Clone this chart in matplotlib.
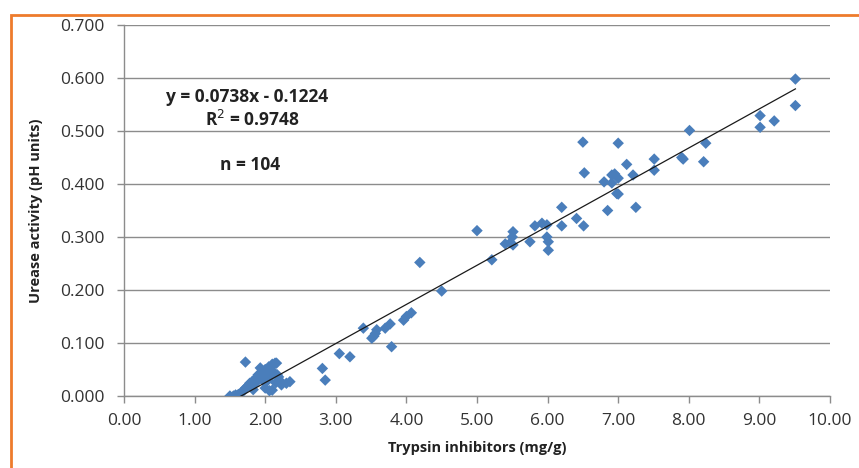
# Trypsin inhibitors vs urease activity scatter with linear trend

import numpy as np
import matplotlib.pyplot as plt
from matplotlib.patches import Rectangle

# data
# cluster of low values near 1.5 - 2.3 mg/g
ti_low = [1.50, 1.55, 1.60, 1.62, 1.65, 1.68, 1.70, 1.72, 1.75, 1.78, 1.80, 1.82,
          1.85, 1.86, 1.88, 1.90, 1.92, 1.95, 1.97, 2.00, 2.00, 2.02, 2.04, 2.05,
          2.07, 2.08, 2.10, 2.10, 2.12, 2.14, 2.15, 2.17, 2.19, 2.20, 2.23, 2.30,
          2.35, 1.72, 1.93, 2.16, 1.98, 2.06, 1.58, 1.83]
ua_low = [0.000, 0.000, 0.000, 0.003, 0.005, 0.008, 0.012, 0.015, 0.018, 0.024, 0.020, 0.028,
          0.030, 0.024, 0.035, 0.040, 0.033, 0.045, 0.038, 0.050, 0.015, 0.042, 0.030, 0.055,
          0.036, 0.048, 0.060, 0.011, 0.045, 0.062, 0.025, 0.040, 0.036, 0.030, 0.021, 0.024,
          0.027, 0.064, 0.053, 0.062, 0.028, 0.010, 0.002, 0.012]

ti_mid = [2.81, 2.85, 3.05, 3.20, 3.39, 3.51, 3.54, 3.56, 3.58, 3.70, 3.77, 3.79,
          3.96, 4.00, 4.07, 4.19, 4.50, 5.00, 5.21, 5.40, 5.47, 5.51, 5.50, 5.51,
          5.75, 5.82, 5.92, 5.99, 5.99, 6.01, 6.01, 6.20, 6.20, 6.41, 6.51]
ua_mid = [0.052, 0.030, 0.080, 0.074, 0.128, 0.109, 0.113, 0.118, 0.125, 0.128, 0.136, 0.093,
          0.143, 0.150, 0.157, 0.252, 0.198, 0.312, 0.257, 0.287, 0.289, 0.310, 0.300, 0.285,
          0.291, 0.321, 0.326, 0.323, 0.300, 0.291, 0.275, 0.356, 0.321, 0.335, 0.321]

ti_high = [6.50, 6.52, 6.80, 6.85, 6.91, 6.91, 6.95, 6.98, 7.00, 7.00, 7.00, 7.12,
           7.21, 7.25, 7.51, 7.51, 7.90, 7.92, 8.01, 8.21, 8.24, 9.01, 9.01, 9.21,
           9.51, 9.51]
ua_high = [0.479, 0.421, 0.404, 0.350, 0.417, 0.402, 0.419, 0.382, 0.411, 0.381, 0.477, 0.437,
           0.417, 0.356, 0.447, 0.426, 0.450, 0.447, 0.501, 0.442, 0.477, 0.529, 0.507, 0.519,
           0.598, 0.548]

slope = 0.0738
intercept = -0.1224

x = np.array(ti_low + ti_mid + ti_high)
y = np.array(ua_low + ua_mid + ua_high)

blue = '#4A7EBB'
grid_c = '#8C8C8C'

fig = plt.figure(figsize=(8.59, 4.68), dpi=100)
ax = fig.add_axes([124/859, 1 - 396/468, (830-124)/859, (396-25)/468])

ax.scatter(x, y, marker='D', s=34, color=blue, edgecolors='none', zorder=3)

xl = np.array([x.min(), x.max()])
ax.plot(xl, slope*xl + intercept, color='#1a1a1a', lw=0.9, zorder=4)

ax.set_xlim(0, 10)
ax.set_ylim(0, 0.7)
ax.set_xticks(np.arange(0, 10.01, 1))
ax.set_xticklabels([f"{v:.2f}" for v in np.arange(0, 10.01, 1)])
ax.set_yticks(np.arange(0, 0.701, 0.1))
ax.set_yticklabels([f"{v:.3f}" for v in np.arange(0, 0.701, 0.1)])

ax.yaxis.grid(True, color=grid_c, lw=1)
ax.set_axisbelow(True)
for s in ['top', 'right']:
    ax.spines[s].set_visible(False)
for s in ['left', 'bottom']:
    ax.spines[s].set_color(grid_c)
    ax.spines[s].set_linewidth(1)
ax.tick_params(axis='both', colors=grid_c, length=5, width=1, labelsize=12.5,
               labelcolor='#333333', direction='out')
ax.tick_params(axis='x', pad=7)
ax.tick_params(axis='y', pad=9)
for lab in ax.get_xticklabels() + ax.get_yticklabels():
    lab.set_family('Open Sans')

ax.set_xlabel('Trypsin inhibitors (mg/g)', fontsize=10.5, fontweight='bold',
              family='Open Sans', color='#222222', labelpad=9)
ax.set_ylabel('Urease activity (pH units)', fontsize=10.5, fontweight='bold',
              family='Open Sans', color='#222222', labelpad=12)

ax.text(1.74, 0.564, 'y = 0.0738x - 0.1224', fontsize=12.5, fontweight='bold',
        family='Open Sans', color='#222222', va='center', ha='center')
ax.text(1.81, 0.521, 'R$^2$ = 0.9748', fontsize=12.5, fontweight='bold',
        family='Open Sans', color='#222222', va='center', ha='center')
ax.text(1.78, 0.436, 'n = 104', fontsize=12.5, fontweight='bold',
        family='Open Sans', color='#222222', va='center', ha='center')

# orange frame of the figure box, cut by the page edges
orange = '#EE7B2C'
fig.patches.append(Rectangle((11/859, -0.05), 1.1, 1 - 15/468 + 0.05,
                             transform=fig.transFigure, fill=False,
                             edgecolor=orange, lw=2))

plt.savefig('out.png', dpi=100)
